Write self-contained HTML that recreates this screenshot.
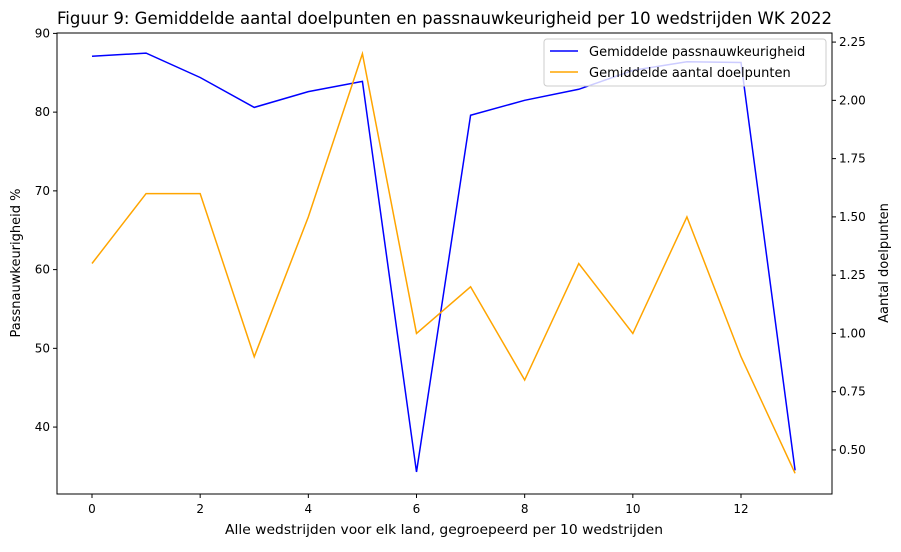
<!DOCTYPE html>
<html><head><meta charset="utf-8"><style>
body{margin:0;background:#fff;font-family:"Liberation Sans","DejaVu Sans",sans-serif;}
svg text{font-family:"DejaVu Sans","Liberation Sans",sans-serif;}
</style></head><body>
<svg id="chart" width="901" height="547"></svg>
<script>
const categories=[0,1,2,3,4,5,6,7,8,9,10,11,12,13];
const passValues=[87.1,87.5,84.4,80.6,82.6,83.9,34.3,79.6,81.5,82.9,85.3,86.4,86.3,34.5];
const goalValues=[1.3,1.6,1.6,0.9,1.5,2.2,1.0,1.2,0.8,1.3,1.0,1.5,0.9,0.4];
const xTicks=[0,2,4,6,8,10,12];
const leftTicks=[40,50,60,70,80,90];
const rightTicks=[0.50,0.75,1.00,1.25,1.50,1.75,2.00,2.25];
const NS="http://www.w3.org/2000/svg";
const svg=document.getElementById('chart');
const L=57,R=832,T=33,B=494;
const x=v=>92+(v-0)*(741-92)/12;
const yL=v=>T+(90.05-v)*(B-T)/(90.05-31.5);
const yR=v=>T+(2.289-v)*(B-T)/(2.289-0.311);
function el(tag,attrs,parent){const e=document.createElementNS(NS,tag);for(const k in attrs)e.setAttribute(k,attrs[k]);(parent||svg).appendChild(e);return e;}
function txt(s,attrs){const t=el('text',attrs);t.textContent=s;return t;}
const title=txt('Figuur 9: Gemiddelde aantal doelpunten en passnauwkeurigheid per 10 wedstrijden WK 2022',{x:57,y:24,'font-size':16.5,textLength:775,lengthAdjust:'spacingAndGlyphs'});


function line(vals,yf,color,name){
  const p=el('polyline',{points:vals.map((v,i)=>x(categories[i])+','+yf(v)).join(' '),fill:'none',stroke:color,'stroke-width':1.5});
  
  
}
line(passValues,yL,'#0000ff','pass-accuracy-line');
line(goalValues,yR,'#ffa500','goals-line');
const frame=el('rect',{x:L,y:T,width:R-L,height:B-T,fill:'none',stroke:'#000','stroke-width':1});


xTicks.forEach(v=>{
  el('line',{x1:x(v),x2:x(v),y1:B,y2:B+4,stroke:'#000'});
  const t=txt(v,{x:x(v),y:B+19,'text-anchor':'middle','font-size':12});
  
  
});
leftTicks.forEach(v=>{
  el('line',{x1:L-4,x2:L,y1:yL(v),y2:yL(v),stroke:'#000'});
  const t=txt(v,{x:L-7,y:yL(v)+4,'text-anchor':'end','font-size':12});
  
  
});
rightTicks.forEach(v=>{
  el('line',{x1:R,x2:R+4,y1:yR(v),y2:yR(v),stroke:'#000'});
  const t=txt(v.toFixed(2),{x:R+7,y:yR(v)+4,'font-size':12});
  
  
});
const xt=txt('Alle wedstrijden voor elk land, gegroepeerd per 10 wedstrijden',{x:225,y:534,'font-size':13.5,textLength:438,lengthAdjust:'spacingAndGlyphs'});


const yt=txt('Passnauwkeurigheid %',{x:0,y:0,'text-anchor':'middle','font-size':13,transform:'translate(20,263) rotate(-90)'});


const yt2=txt('Aantal doelpunten',{x:0,y:0,'text-anchor':'middle','font-size':13,transform:'translate(888,263) rotate(-90)'});


const lg=el('g',{});


el('rect',{x:544,y:39,width:282,height:47,rx:3,fill:'#fff','fill-opacity':0.8,stroke:'#ccc'},lg);
[['Gemiddelde passnauwkeurigheid','#0000ff',51],['Gemiddelde aantal doelpunten','#ffa500',72]].forEach(([s,c,yy])=>{
  el('line',{x1:550,x2:578,y1:yy,y2:yy,stroke:c,'stroke-width':1.5},lg);
  const t=el('text',{x:589,y:yy+5,'font-size':13},lg);t.textContent=s;
  
  
});
</script>
</body></html>
